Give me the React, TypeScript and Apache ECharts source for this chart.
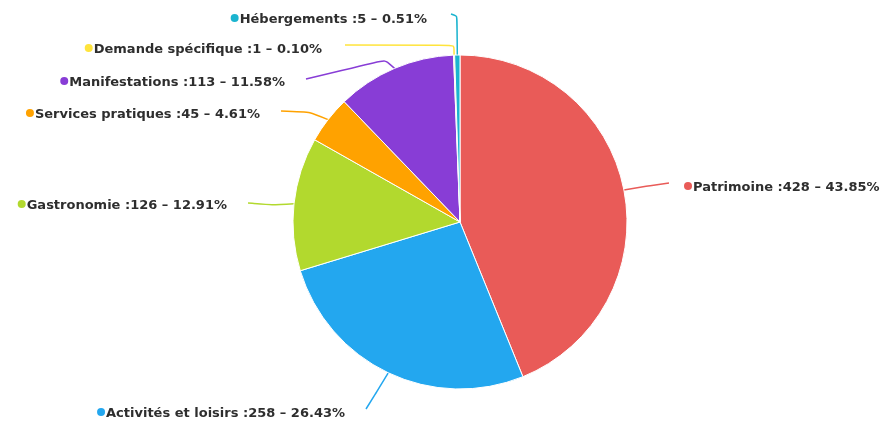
import React, { useEffect, useRef } from "react";
import * as echarts from "echarts";

const categories = [
  "Patrimoine",
  "Activités et loisirs",
  "Gastronomie",
  "Services pratiques",
  "Manifestations",
  "Demande spécifique",
  "Hébergements",
];
const values = [428, 258, 126, 45, 113, 1, 5];
const colors = ["#E95B58", "#23A7EF", "#B2D92E", "#FFA200", "#883DD6", "#FFE43C", "#1BB4CF"];

// label layout (anchor and guide-line points), pixel positions
const labelAnchors: { x: number; y: number; align: string; pts: number[][] }[] = [
  { x: 684, y: 186, align: "left", pts: [[648, 186], [669, 183]] },
  { x: 345, y: 412, align: "right", pts: [[376, 393], [366, 409]] },
  { x: 227, y: 204, align: "right", pts: [[272, 205], [248, 203]] },
  { x: 260, y: 113, align: "right", pts: [[310, 112], [281, 111]] },
  { x: 285, y: 81, align: "right", pts: [[385, 60], [306, 79]] },
  { x: 322, y: 48, align: "right", pts: [[454, 45], [345, 45]] },
  { x: 427, y: 18, align: "right", pts: [[457, 16], [451, 14]] },
];

const total = values.reduce((a, b) => a + b, 0);

export default function App() {
  const ref = useRef<HTMLDivElement>(null);
  useEffect(() => {
    const chart = echarts.init(ref.current!, null, { renderer: "svg" });
    const data = categories.map((name, i) => ({
      name,
      value: values[i],
      itemStyle: { color: colors[i] },
      labelLine: { lineStyle: { color: colors[i] } },
      label: {
        rich: {
          d: { width: 8, height: 8, borderRadius: 4, backgroundColor: colors[i] },
          t: {
            fontFamily: "DejaVu Sans",
            fontSize: 13,
            fontWeight: "bold",
            color: "#2e2e2e",
            padding: [0, 0, 0, 1],
          },
        },
      },
    }));
    chart.setOption({
      animation: false,
      series: [
        {
          type: "pie",
          center: [460, 222],
          radius: 167,
          startAngle: 90,
          clockwise: true,
          data,
          itemStyle: { borderColor: "#fff", borderWidth: 1 },
          label: {
            show: true,
            formatter: (p: any) =>
              `{d|}{t|${p.name} :${p.value} – ${((p.value / total) * 100).toFixed(2)}%}`,
          },
          labelLine: { show: true, smooth: 0.2, lineStyle: { width: 1.5 } },
          labelLayout: (params: any) => {
            const a = labelAnchors[params.dataIndex];
            const p0 = params.labelLinePoints ? params.labelLinePoints[0] : a.pts[0];
            return {
              x: a.x,
              y: a.y,
              align: a.align,
              verticalAlign: "middle",
              labelLinePoints: [p0, a.pts[0], a.pts[1]],
            };
          },
        },
      ],
    });
    return () => chart.dispose();
  }, []);
  return (
    <div
      ref={ref}
      style={{ position: "fixed", left: 0, top: 0, width: 883, height: 421 }}
    />
  );
}
